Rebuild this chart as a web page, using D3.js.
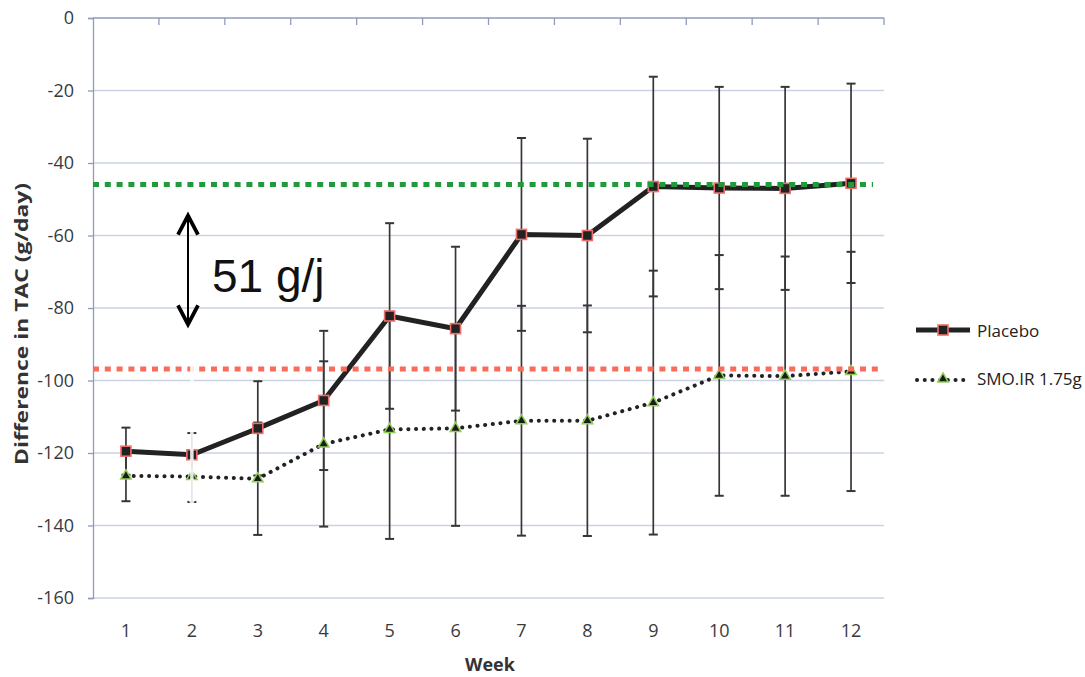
<!DOCTYPE html>
<html><head><meta charset="utf-8">
<script src="https://cdn.jsdelivr.net/npm/d3@7"></script>
<style>body{margin:0;background:#fff}svg{display:block}</style>
</head><body>
<svg id="c" width="1085" height="677"></svg>
<script>
const weeks = [1,2,3,4,5,6,7,8,9,10,11,12];
const placebo    = [-119.5,-120.5,-113.2,-105.5,-82.2,-85.7,-59.7,-60.0,-46.5,-46.9,-47.0,-45.6];
const placeboErr = [6.5,6.0,13.0,19.2,25.6,22.6,26.6,26.7,30.3,27.9,28.0,27.5];
const smo        = [-126.3,-126.5,-127.1,-117.5,-113.5,-113.2,-111.1,-111.1,-106.1,-98.6,-98.8,-97.5];
const smoErr     = [7.0,7.0,15.5,22.8,30.2,26.9,31.7,31.8,36.4,33.2,33.0,33.0];
const yTicks = [0,-20,-40,-60,-80,-100,-120,-140,-160];
const refGreen = -45.9;
const refRed = -96.8;
const seriesNames = ["Placebo","SMO.IR 1.75g"];
const annotation = "51 g/j";
const annoFrom = -54.5, annoTo = -84.5;

const svg = d3.select("#c");
const L=93, R=884, T=18, B=598;
const x = d3.scalePoint().domain(weeks).range([L,R]).padding(0.5);
const y = d3.scaleLinear().domain([-160,0]).range([B,T]);
const step = x.step();
const axisCol="#8e9bbb", gridCol="#cbd2e3", txtCol="#3a3a3a";

// gridlines
svg.append("g").selectAll("line").data(yTicks.filter(d=>d!==0)).join("line")
  .attr("x1",L).attr("x2",R).attr("y1",d=>y(d)).attr("y2",d=>y(d))
  .attr("stroke",gridCol).attr("stroke-width",1.3);

// y axis
const ya = svg.append("g").attr("transform",`translate(${L},0)`)
  .call(d3.axisLeft(y).tickValues(yTicks).tickSize(5).tickPadding(14).tickFormat(d=>String(d)));
ya.select(".domain").attr("stroke",axisCol).attr("stroke-width",1.3);
ya.selectAll(".tick line").attr("stroke",axisCol).attr("stroke-width",1.3);
ya.selectAll("text").attr("font-family","Open Sans").attr("font-size",18).attr("fill",txtCol);

// top x axis line with boundary ticks
svg.append("line").attr("x1",L).attr("x2",R).attr("y1",y(0)).attr("y2",y(0))
  .attr("stroke",axisCol).attr("stroke-width",1.3);
svg.append("g").selectAll("line").data(weeks).join("line")
  .attr("x1",d=>x(d)+step/2).attr("x2",d=>x(d)+step/2)
  .attr("y1",y(0)).attr("y2",y(0)+7).attr("stroke",axisCol).attr("stroke-width",1.3);

// x labels at bottom
svg.append("g").selectAll("text").data(weeks).join("text")
  .attr("x",d=>x(d)).attr("y",637).attr("text-anchor","middle")
  .attr("font-family","Open Sans").attr("font-size",18).attr("fill",txtCol).text(d=>d);

svg.append("text").attr("x",490).attr("y",671).attr("text-anchor","middle")
  .attr("font-family","Open Sans").attr("font-weight","bold").attr("font-size",18)
  .attr("fill","#333").text("Week");

svg.append("text").attr("transform","translate(28,324) rotate(-90)")
  .attr("text-anchor","middle").attr("font-family","Open Sans").attr("font-weight","bold")
  .attr("font-size",17).attr("fill","#333")
  .attr("textLength",282).attr("lengthAdjust","spacingAndGlyphs")
  .text("Difference in TAC (g/day)");

// error bars
function errBars(vals, errs){
  const g = svg.append("g").attr("stroke","#363636").attr("stroke-width",1.7);
  weeks.forEach((w,i)=>{
    const cx=x(w), y1=y(vals[i]+errs[i]), y2=y(vals[i]-errs[i]);
    g.append("line").attr("x1",cx).attr("x2",cx).attr("y1",y1).attr("y2",y2);
    g.append("line").attr("x1",cx-4.5).attr("x2",cx+4.5).attr("y1",y1).attr("y2",y1).attr("stroke-width",2);
    g.append("line").attr("x1",cx-4.5).attr("x2",cx+4.5).attr("y1",y2).attr("y2",y2).attr("stroke-width",2);
  });
}
errBars(placebo, placeboErr);
errBars(smo, smoErr);

// lines
const lineP = d3.line().x((d,i)=>x(weeks[i])).y(d=>y(d));
svg.append("path").attr("d",lineP(smo)).attr("fill","none").attr("stroke","#222")
  .attr("stroke-width",4).attr("stroke-dasharray","0.1 7.6").attr("stroke-linecap","round");
svg.append("path").attr("d",lineP(placebo)).attr("fill","none").attr("stroke","#222")
  .attr("stroke-width",5);

// markers
const tri = d3.symbol().type(d3.symbolTriangle).size(48);
svg.append("g").selectAll("path").data(smo).join("path")
  .attr("d",tri).attr("transform",(d,i)=>`translate(${x(weeks[i])},${y(d)})`)
  .attr("fill","#1c1c1c").attr("stroke","#8fcf55").attr("stroke-width",1.5);
svg.append("g").selectAll("rect").data(placebo).join("rect")
  .attr("x",(d,i)=>x(weeks[i])-5).attr("y",d=>y(d)-5).attr("width",10).attr("height",10)
  .attr("fill","#222").attr("stroke","#ee6f6a").attr("stroke-width",1.6);

// reference dotted lines
svg.append("line").attr("x1",L).attr("x2",873).attr("y1",y(refGreen)).attr("y2",y(refGreen))
  .attr("stroke","#1f9a3c").attr("stroke-width",5).attr("stroke-dasharray","6 5.8");
svg.append("line").attr("x1",L).attr("x2",878).attr("y1",y(refRed)).attr("y2",y(refRed))
  .attr("stroke","#fa6b5c").attr("stroke-width",5).attr("stroke-dasharray","6 5.8");

// white arrow overlay at week 2
const wx = x(2);
const wg = svg.append("g").attr("stroke","#fff").attr("fill","none").attr("opacity",0.88);
wg.append("line").attr("x1",wx).attr("x2",wx).attr("y1",332).attr("y2",y(-133.5)).attr("stroke-width",3.5);
wg.append("path").attr("d",`M${wx-10},${y(-129)}L${wx},${y(-133.5)}L${wx+10},${y(-129)}`).attr("stroke-width",4);

// black double arrow annotation
const ax = 188;
const ag = svg.append("g").attr("stroke","#000").attr("fill","none");
ag.append("line").attr("x1",ax).attr("x2",ax).attr("y1",y(annoFrom)-1).attr("y2",y(annoTo)+1).attr("stroke-width",2);
ag.append("path").attr("d",`M${ax-10},${y(annoFrom)+19}L${ax},${y(annoFrom)}L${ax+10},${y(annoFrom)+19}`)
  .attr("stroke-width",3.8).attr("stroke-linejoin","miter");
ag.append("path").attr("d",`M${ax-10},${y(annoTo)-19}L${ax},${y(annoTo)}L${ax+10},${y(annoTo)-19}`)
  .attr("stroke-width",3.8).attr("stroke-linejoin","miter");
svg.append("text").attr("x",212).attr("y",292).attr("font-family","Liberation Sans, Arial")
  .attr("font-size",46).attr("fill","#111").text(annotation);

// legend
const lg = svg.append("g");
lg.append("line").attr("x1",916).attr("x2",970).attr("y1",330).attr("y2",330).attr("stroke","#222").attr("stroke-width",5);
lg.append("rect").attr("x",938).attr("y",325).attr("width",10).attr("height",10).attr("fill","#222").attr("stroke","#ee6f6a").attr("stroke-width",1.6);
lg.append("text").attr("x",977).attr("y",337).attr("font-family","Open Sans").attr("font-size",17).attr("fill","#222").text(seriesNames[0]);
lg.append("line").attr("x1",917).attr("x2",966).attr("y1",380).attr("y2",380).attr("stroke","#222")
  .attr("stroke-width",4).attr("stroke-dasharray","0.1 7.6").attr("stroke-linecap","round");
lg.append("path").attr("d",tri).attr("transform","translate(943,379)").attr("fill","#1c1c1c").attr("stroke","#8fcf55").attr("stroke-width",1.5);
lg.append("text").attr("x",977).attr("y",385).attr("font-family","Open Sans").attr("font-size",17).attr("fill","#222").text(seriesNames[1]);
</script>
</body></html>
